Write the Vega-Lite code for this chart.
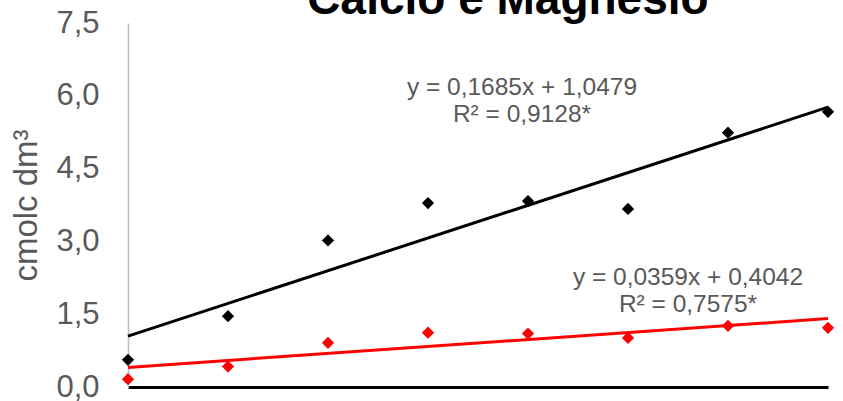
{
  "$schema": "https://vega.github.io/schema/vega-lite/v6.json",
  "autosize": "none",
  "width": 700,
  "height": 364,
  "padding": {"left": 128, "top": 23, "right": 15, "bottom": 14},
  "background": "white",
  "title": {
    "text": "Cálcio e Magnésio",
    "font": "Liberation Sans",
    "fontSize": 46,
    "fontWeight": "bold",
    "color": "black",
    "anchor": "middle",
    "frame": "group",
    "baseline": "alphabetic",
    "dx": 30,
    "offset": -53
  },
  "config": {
    "view": {"stroke": null},
    "font": "Liberation Sans"
  },
  "datasets": {
    "obs": [
      {"serie": "Cálcio", "x": 0, "y": 0.56},
      {"serie": "Cálcio", "x": 4, "y": 1.46},
      {"serie": "Cálcio", "x": 8, "y": 3.02},
      {"serie": "Cálcio", "x": 12, "y": 3.79},
      {"serie": "Cálcio", "x": 16, "y": 3.83},
      {"serie": "Cálcio", "x": 20, "y": 3.67},
      {"serie": "Cálcio", "x": 24, "y": 5.24},
      {"serie": "Cálcio", "x": 28, "y": 5.67},
      {"serie": "Magnésio", "x": 0, "y": 0.16},
      {"serie": "Magnésio", "x": 4, "y": 0.42},
      {"serie": "Magnésio", "x": 8, "y": 0.91},
      {"serie": "Magnésio", "x": 12, "y": 1.12},
      {"serie": "Magnésio", "x": 16, "y": 1.10},
      {"serie": "Magnésio", "x": 20, "y": 1.01},
      {"serie": "Magnésio", "x": 24, "y": 1.26},
      {"serie": "Magnésio", "x": 28, "y": 1.22}
    ],
    "trend": [
      {"serie": "Cálcio", "x": 0, "y": 1.0479},
      {"serie": "Cálcio", "x": 28, "y": 5.7659},
      {"serie": "Magnésio", "x": 0, "y": 0.4042},
      {"serie": "Magnésio", "x": 28, "y": 1.4094}
    ],
    "labels": [
      {"serie": "Cálcio", "x": 15.76, "y": 6.16, "label": "y = 0,1685x + 1,0479\nR² = 0,9128*"},
      {"serie": "Magnésio", "x": 22.4, "y": 2.25, "label": "y = 0,0359x + 0,4042\nR² = 0,7575*"}
    ]
  },
  "encoding": {
    "x": {
      "field": "x",
      "type": "quantitative",
      "scale": {"domain": [0, 28], "nice": false, "zero": false},
      "axis": {
        "title": null,
        "labels": false,
        "ticks": false,
        "grid": false,
        "domainColor": "black",
        "domainWidth": 3
      }
    },
    "y": {
      "field": "y",
      "type": "quantitative",
      "scale": {"domain": [0, 7.5], "nice": false},
      "axis": {
        "title": "cmolc dm³",
        "titleFontSize": 33,
        "titleFontWeight": "normal",
        "titleColor": "#595959",
        "titleFont": "Liberation Sans",
        "titlePadding": 12,
        "values": [0, 1.5, 3, 4.5, 6, 7.5],
        "labelExpr": "replace(format(datum.value, '.1f'), '.', ',')",
        "labelFontSize": 31,
        "labelColor": "#595959",
        "labelFont": "Liberation Sans",
        "labelPadding": 29,
        "ticks": false,
        "grid": false,
        "domainColor": "#bfbfbf",
        "domainWidth": 1.5
      }
    }
  },
  "layer": [
    {
      "data": {"name": "obs"},
      "mark": {"type": "point", "shape": "diamond", "filled": true, "size": 150, "opacity": 1},
      "encoding": {
        "color": {"field": "serie", "type": "nominal", "scale": {"domain": ["Cálcio", "Magnésio"], "range": ["#000000", "#ff0000"]}, "legend": null}
      }
    },
    {
      "data": {"name": "trend"},
      "mark": {"type": "line", "strokeWidth": 3},
      "encoding": {
        "color": {"field": "serie", "type": "nominal", "scale": {"domain": ["Cálcio", "Magnésio"], "range": ["#000000", "#ff0000"]}, "legend": null}
      }
    },
    {
      "data": {"name": "labels"},
      "mark": {"type": "text", "fontSize": 24.5, "color": "#595959", "lineBreak": "\n", "lineHeight": 27, "align": "center", "baseline": "middle", "font": "Liberation Sans"},
      "encoding": {
        "text": {"field": "label"}
      }
    }
  ]
}
